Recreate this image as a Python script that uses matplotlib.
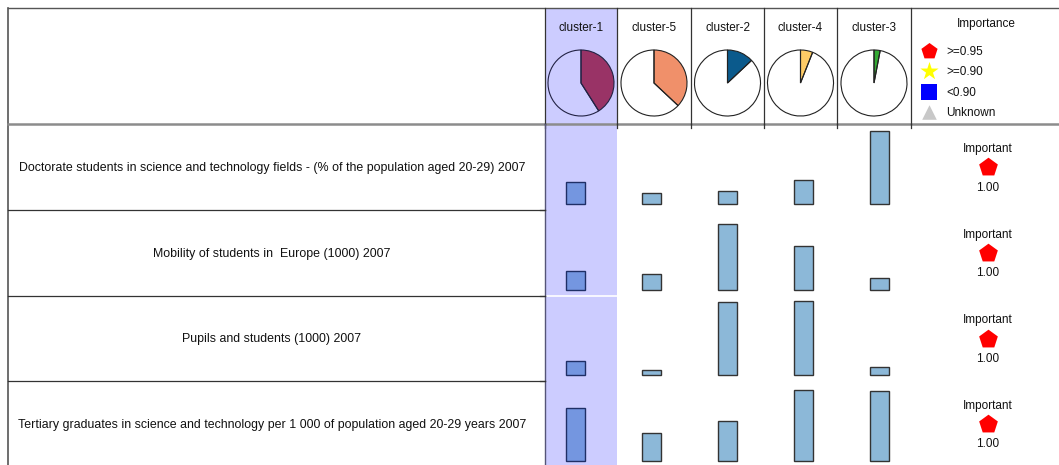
import matplotlib
matplotlib.use("Agg")
import matplotlib.pyplot as plt

# ---------------- data ----------------
clusters = ["cluster-1", "cluster-5", "cluster-2", "cluster-4", "cluster-3"]
cluster_sizes = [0.41, 0.37, 0.13, 0.06, 0.03]
cluster_colors = ["#993366", "#F0906A", "#0B5A8C", "#FFCC66", "#33AA33"]

features = [
    "Doctorate students in science and technology fields - (% of the population aged 20-29) 2007",
    "Mobility of students in  Europe (1000) 2007",
    "Pupils and students (1000) 2007",
    "Tertiary graduates in science and technology per 1 000 of population aged 20-29 years 2007",
]
# relative bar heights per feature (cluster order as above)
doctorate = [22, 11, 13, 24, 73]
mobility = [19, 16, 66, 44, 12]
pupils = [14, 5, 73, 74, 8]
tertiary = [53, 28, 40, 71, 70]
importance = [1.00, 1.00, 1.00, 1.00]
importance_label = "Important"

legend_labels = [">=0.95", ">=0.90", "<0.90", "Unknown"]
legend_markers = ["p", "*", "s", "^"]
legend_colors = ["#FF0000", "#FFFF00", "#0000FF", "#C8C8C8"]

# ---------------- layout ----------------
W, H = 1059, 465
fig = plt.figure(figsize=(W / 100, H / 100), dpi=100)
ax = fig.add_axes([0, 0, 1, 1])
ax.set_xlim(0, W)
ax.set_ylim(H, 0)
ax.axis("off")

FONT = "Liberation Sans"
FS_LABEL = 8.9
FS_SMALL = 8.5
left, top, head_bot = 8, 8, 124.5
label_right = 545
col_edges = [545, 617, 691, 764, 837, 911]
row_h = 85.5
row_tops = [head_bot + i * row_h for i in range(4)]

# highlight for cluster-1 column
hl = "#CCCCFF"
ax.fill_between([col_edges[0], col_edges[1]], top, H, color=hl, lw=0, zorder=0)
ax.plot([col_edges[0], col_edges[1]], [row_tops[2], row_tops[2]], color="white", lw=1.2, zorder=1)

# borders
ax.plot([left, W], [top, top], color="#555555", lw=1.0, zorder=3)
ax.plot([left, left], [top, H], color="#555555", lw=1.2, zorder=3)
ax.plot([left, W], [head_bot, head_bot], color="#8C8C8C", lw=1.8, zorder=3)
for x in col_edges:
    ax.plot([x, x], [top, head_bot], color="#333333", lw=0.9, zorder=3)
    ax.plot([x, x], [head_bot, head_bot + 4], color="#333333", lw=0.9, zorder=3)
ax.plot([col_edges[0], col_edges[0]], [head_bot, H], color="#555577", lw=1.0, zorder=3)
for i in range(1, 4):
    y = row_tops[i]
    ax.plot([left, label_right], [y, y], color="#333333", lw=0.9, zorder=3)
    ax.plot([label_right - 5, label_right], [y, y], color="#333333", lw=0.9, zorder=3)

# header labels and pies
col_centers = [(col_edges[i] + col_edges[i + 1]) / 2 for i in range(5)]
pie_cy, pie_r = 83, 33
for i, name in enumerate(clusters):
    cx = col_centers[i]
    ax.text(cx, 28, name, ha="center", va="center", fontsize=FS_SMALL, family=FONT, color="#111111")
    pax = fig.add_axes([(cx - pie_r - 1) / W, 1 - (pie_cy + pie_r + 1) / H,
                        2 * (pie_r + 1) / W, 2 * (pie_r + 1) / H])
    edge = "#222244" if i == 0 else "#222222"
    pax.pie([cluster_sizes[i], 1 - cluster_sizes[i]], colors=[cluster_colors[i], "none"],
            startangle=90, counterclock=False,
            wedgeprops=dict(edgecolor=edge, linewidth=0.8))
    pax.set_xlim(-1.03, 1.03)
    pax.set_ylim(-1.03, 1.03)
    pax.set_aspect("auto")
    pax.axis("off")

# importance legend
ax.text(986, 24, "Importance", ha="center", va="center", fontsize=FS_SMALL, family=FONT, color="#111111")
legend_sizes = {"p": 150, "*": 190, "s": 130, "^": 110}
for k, (lab, mk, c) in enumerate(zip(legend_labels, legend_markers, legend_colors)):
    y = 51 + k * 20.3
    ax.scatter([929], [y], marker=mk, s=legend_sizes[mk], color=c, lw=0, zorder=4)
    ax.text(946, y + 1, lab, ha="left", va="center", fontsize=FS_SMALL, family=FONT, color="#111111")

# rows
rows = [doctorate, mobility, pupils, tertiary]
bar_x0, bar_dx, bar_w = 575, 76, 19
for i, (feat, vals) in enumerate(zip(features, rows)):
    yt = row_tops[i]
    base = yt + row_h - 6
    ax.text(272, yt + row_h / 2 + 1, feat, ha="center", va="center", fontsize=FS_LABEL, family=FONT, color="#111111")
    xs = [bar_x0 + j * bar_dx for j in range(len(vals))]
    fc = ["#7496E0"] + ["#8CB8D8"] * (len(vals) - 1)
    ec = ["#1F2F66"] + ["#333333"] * (len(vals) - 1)
    ax.bar(xs, [-v for v in vals], bottom=base, width=bar_w, color=fc, edgecolor=ec, lw=1.0, zorder=4)
    ax.text(988, yt + 24.5, importance_label, ha="center", va="center", fontsize=FS_SMALL, family=FONT, color="#111111")
    ax.scatter([988], [yt + 43], marker="p", s=200, color="#FF0000", lw=0, zorder=4)
    ax.text(988, yt + 63, f"{importance[i]:.2f}", ha="center", va="center", fontsize=FS_SMALL, family=FONT, color="#111111")

fig.savefig("out.png", dpi=100)
